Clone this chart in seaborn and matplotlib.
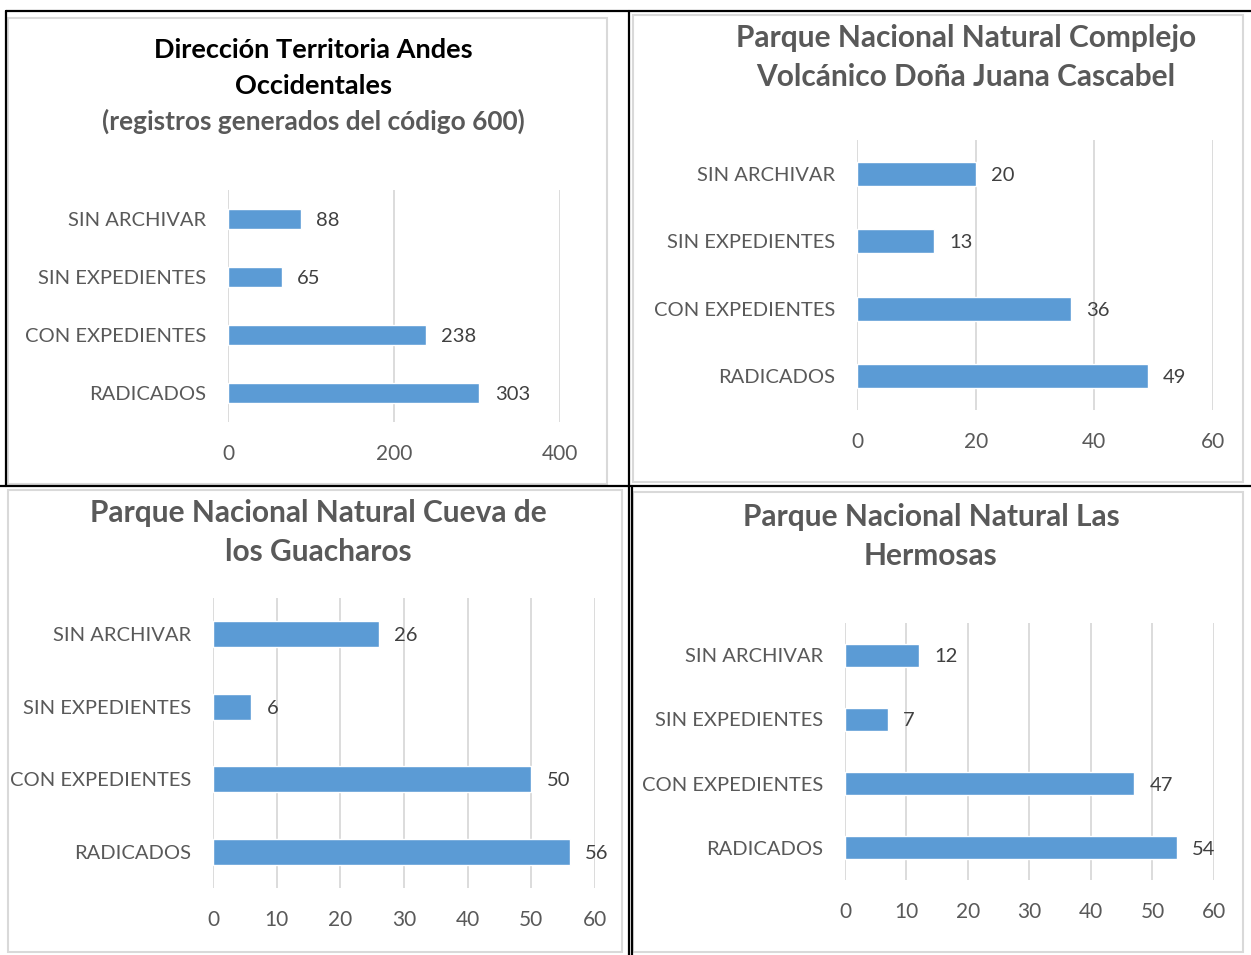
import matplotlib
matplotlib.use("Agg")
import matplotlib.pyplot as plt
import seaborn as sns
from matplotlib.patches import Rectangle
from matplotlib.lines import Line2D

categorias = ["SIN ARCHIVAR", "SIN EXPEDIENTES", "CON EXPEDIENTES", "RADICADOS"]
andes = [88, 65, 238, 303]
dona_juana = [20, 13, 36, 49]
guacharos = [26, 6, 50, 56]
hermosas = [12, 7, 47, 54]

titulo_andes = ["Dirección Territoria Andes", "Occidentales"]
subtitulo_andes = "(registros generados del código 600)"
titulo_dona_juana = ["Parque Nacional Natural Complejo", "Volcánico Doña Juana Cascabel"]
titulo_guacharos = ["Parque Nacional Natural Cueva de", "los Guacharos"]
titulo_hermosas = ["Parque Nacional Natural Las", "Hermosas"]

W, H = 1251, 955
AZUL = "#5B9BD5"
GRIS = "#595959"
GRID = "#D9D9D9"
FS = 14.5

sns.set_theme(style="white")
plt.rcParams["font.family"] = ["Lato", "DejaVu Sans"]

fig = plt.figure(figsize=(W / 100, H / 100), dpi=100)


def fx(x):
    return x / W


def fy(y):
    return 1 - y / H


def panel(x0, x1, y0, y1, valores, xmax, paso):
    ax = fig.add_axes([fx(x0), fy(y1), (x1 - x0) / W, (y1 - y0) / H])
    sns.barplot(x=valores, y=categorias, orient="h", color=AZUL, saturation=1,
                width=0.355, errorbar=None, ax=ax, zorder=3)
    ax.set_xlim(0, xmax)
    ax.set_ylim(3.5, -0.5)
    ax.set_xticks(range(0, xmax + 1, paso))
    ax.grid(axis="x", color=GRID, linewidth=1.3, zorder=0)
    ax.grid(axis="y", visible=False)
    for s in ax.spines.values():
        s.set_visible(False)
    ax.set_xlabel("")
    ax.set_ylabel("")
    ax.tick_params(axis="x", length=0, pad=16, labelsize=15, labelcolor=GRIS)
    ax.tick_params(axis="y", length=0, pad=16, labelsize=FS, labelcolor=GRIS)
    ax.patch.set_alpha(0)
    for c in ax.containers:
        for t in ax.bar_label(c, padding=11, fontsize=FS, color="#404040"):
            t.set_va("center_baseline")
    return ax


def marco(x0, y0, x1, y1):
    fig.add_artist(Rectangle((fx(x0), fy(y1)), (x1 - x0) / W, (y1 - y0) / H,
                             transform=fig.transFigure, facecolor="white",
                             edgecolor=GRID, linewidth=1.5, zorder=-1))


def titulo(cx, ys, lineas, color, size=21.5):
    for y, t in zip(ys, lineas):
        fig.text(fx(cx), fy(y), t, ha="center", va="center", fontsize=size,
                 fontweight="bold", color=color)


# marcos de cada grafico
marco(8, 18, 607, 484)
marco(633, 15, 1243, 482)
marco(8, 490, 622, 952)
marco(633, 492, 1243, 952)

# lineas negras de la tabla
for (xa, ya, xb, yb) in [(6, 11, 1251, 11), (6, 11, 6, 486), (0, 486, 1251, 486),
                         (629, 11, 629, 955), (632, 486, 632, 955)]:
    fig.add_artist(Line2D([fx(xa), fx(xb)], [fy(ya), fy(yb)], transform=fig.transFigure,
                          color="black", linewidth=1.6))

panel(228, 560, 190, 422, andes, 400, 200)
panel(857, 1213, 140, 410, dona_juana, 60, 20)
panel(213, 595, 598, 888, guacharos, 60, 10)
panel(845, 1214, 623, 880, hermosas, 60, 10)

titulo(313, [50, 86], titulo_andes, "black", size=19.5)
titulo(313, [121], [subtitulo_andes], GRIS, size=18.9)
titulo(966, [38, 77], titulo_dona_juana, GRIS)
titulo(318, [513, 552], titulo_guacharos, GRIS)
titulo(931, [517, 556], titulo_hermosas, GRIS)

fig.savefig("out.png", dpi=100, facecolor="white")
